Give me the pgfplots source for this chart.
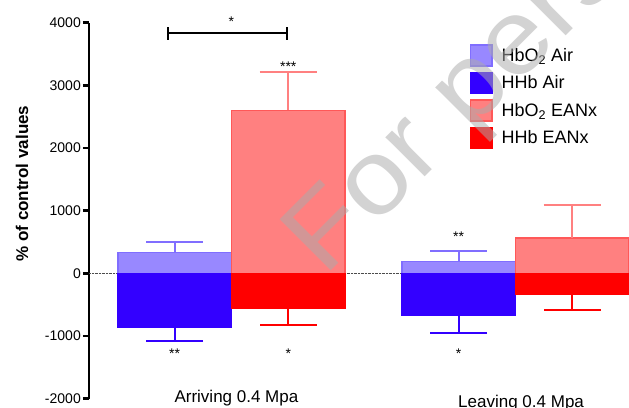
\documentclass[border=0pt]{standalone}
\usepackage{pgfplots}
\pgfplotsset{compat=1.18}
\usepackage{fontspec}
\setmainfont{Liberation Sans}
\definecolor{lblue}{RGB}{152,136,255}
\definecolor{lblueb}{RGB}{128,110,255}
\definecolor{dblue}{RGB}{51,0,255}
\definecolor{lred}{RGB}{255,128,128}
\definecolor{lredb}{RGB}{255,88,88}
\definecolor{dred}{RGB}{255,0,0}
\begin{document}
\begin{tikzpicture}
\begin{axis}[name=ax,
  scale only axis, width=540pt, height=376pt,
  xmin=-0.754, xmax=4.0, ymin=-2000, ymax=4000,
  clip=false,
  axis x line=none, axis y line*=left,
  axis line style={line width=2.5pt, black},
  ytick={-2000,-1000,0,1000,2000,3000,4000},
  tick align=outside, major tick length=6pt,
  ytick style={line width=2.5pt, black},
  scaled y ticks=false,
  /pgf/number format/assume math mode=true,
  /pgf/number format/1000 sep={},
  y tick label style={font=\fontsize{14}{14}\selectfont, inner sep=2pt},
  extra y ticks={0}, extra y tick labels={},
  extra y tick style={grid=major, major grid style={densely dotted, line width=0.6pt, black!70}, major tick length=0pt},
  ylabel={\textbf{\% of control values}},
  ylabel style={at={(axis description cs:-0.124,0.572)}, anchor=center, rotate=0, font=\fontsize{17}{17}\selectfont},
  legend style={at={(axis description cs:0.705,0.943)}, anchor=north west, draw=none, fill=none, inner sep=0pt,
    font=\fontsize{18}{18}\selectfont, row sep=5pt, cells={anchor=west},
    /tikz/every odd column/.append style={column sep=7pt}},
  mybar/.style={ybar, bar width=1, bar shift=0pt, line width=1.5pt,
    legend image code/.code={\draw[##1, line width=1.5pt] (0.75pt,-10.5pt) rectangle (22pt,10.5pt);}},
  myerr/.style={error bars/.cd, y explicit, error mark=-,
    error bar style={line width=2pt, color=#1},
    error mark options={rotate=90, mark size=28.5pt, line width=2pt, color=#1}},
]
% HbO2 Air
\addplot[mybar, fill=lblue, draw=lblueb, myerr=lblueb, y dir=plus]
  coordinates {(0,335) +- (0,160) (2.5,192) +- (0,171)};
\addlegendentry{HbO\textsubscript{2} Air}
% HHb Air
\addplot[mybar, fill=dblue, draw=dblue, myerr=dblue, y dir=minus]
  coordinates {(0,-852) +- (0,223) (2.5,-676) +- (0,282)};
\addlegendentry{HHb Air}
% HbO2 EANx
\addplot[mybar, fill=lred, draw=lredb, myerr=lred, y dir=plus]
  coordinates {(1,2600) +- (0,611) (3.5,565) +- (0,528)};
\addlegendentry{HbO\textsubscript{2} EANx}
% HHb EANx
\addplot[mybar, fill=dred, draw=dred, myerr=dred, y dir=minus]
  coordinates {(1,-559) +- (0,261) (3.5,-340) +- (0,240)};
\addlegendentry{HHb EANx}
% significance
\tikzset{star/.style={font=\fontsize{14}{14}\selectfont, inner sep=0pt}}
\node[star] at (axis cs:1,3300) {***};
\node[star] at (axis cs:0,-1280) {**};
\node[star] at (axis cs:1,-1280) {*};
\node[star] at (axis cs:2.5,590) {**};
\node[star] at (axis cs:2.5,-1280) {*};
\node[star] at (axis cs:0.5,4010) {*};
\draw[line width=2.5pt] (axis cs:-0.06,3834) -- (axis cs:0.99,3834);
\draw[line width=2.5pt] (axis cs:-0.06,3730) -- (axis cs:-0.06,3938);
\draw[line width=2.5pt] (axis cs:0.99,3730) -- (axis cs:0.99,3938);
% category labels
\node[anchor=base, font=\fontsize{17}{17}\selectfont] at (axis cs:0.544,-2061) {Arriving 0.4 Mpa};
\node[anchor=base, font=\fontsize{17}{17}\selectfont] at (axis cs:3.05,-2137) {Leaving 0.4 Mpa};
\end{axis}
% watermark
\node[anchor=base west, rotate=45, xscale=1.1, text=black!33, opacity=0.53, font=\fontsize{105}{105}\selectfont, inner sep=0pt]
  at ([xshift=235pt,yshift=120.7pt]ax.south west) {For personal use only};
\pgfresetboundingbox
\path[use as bounding box] ([xshift=-89pt,yshift=-8.7pt]ax.south west) rectangle ([yshift=22.7pt]ax.north east);
\end{tikzpicture}
\end{document}
